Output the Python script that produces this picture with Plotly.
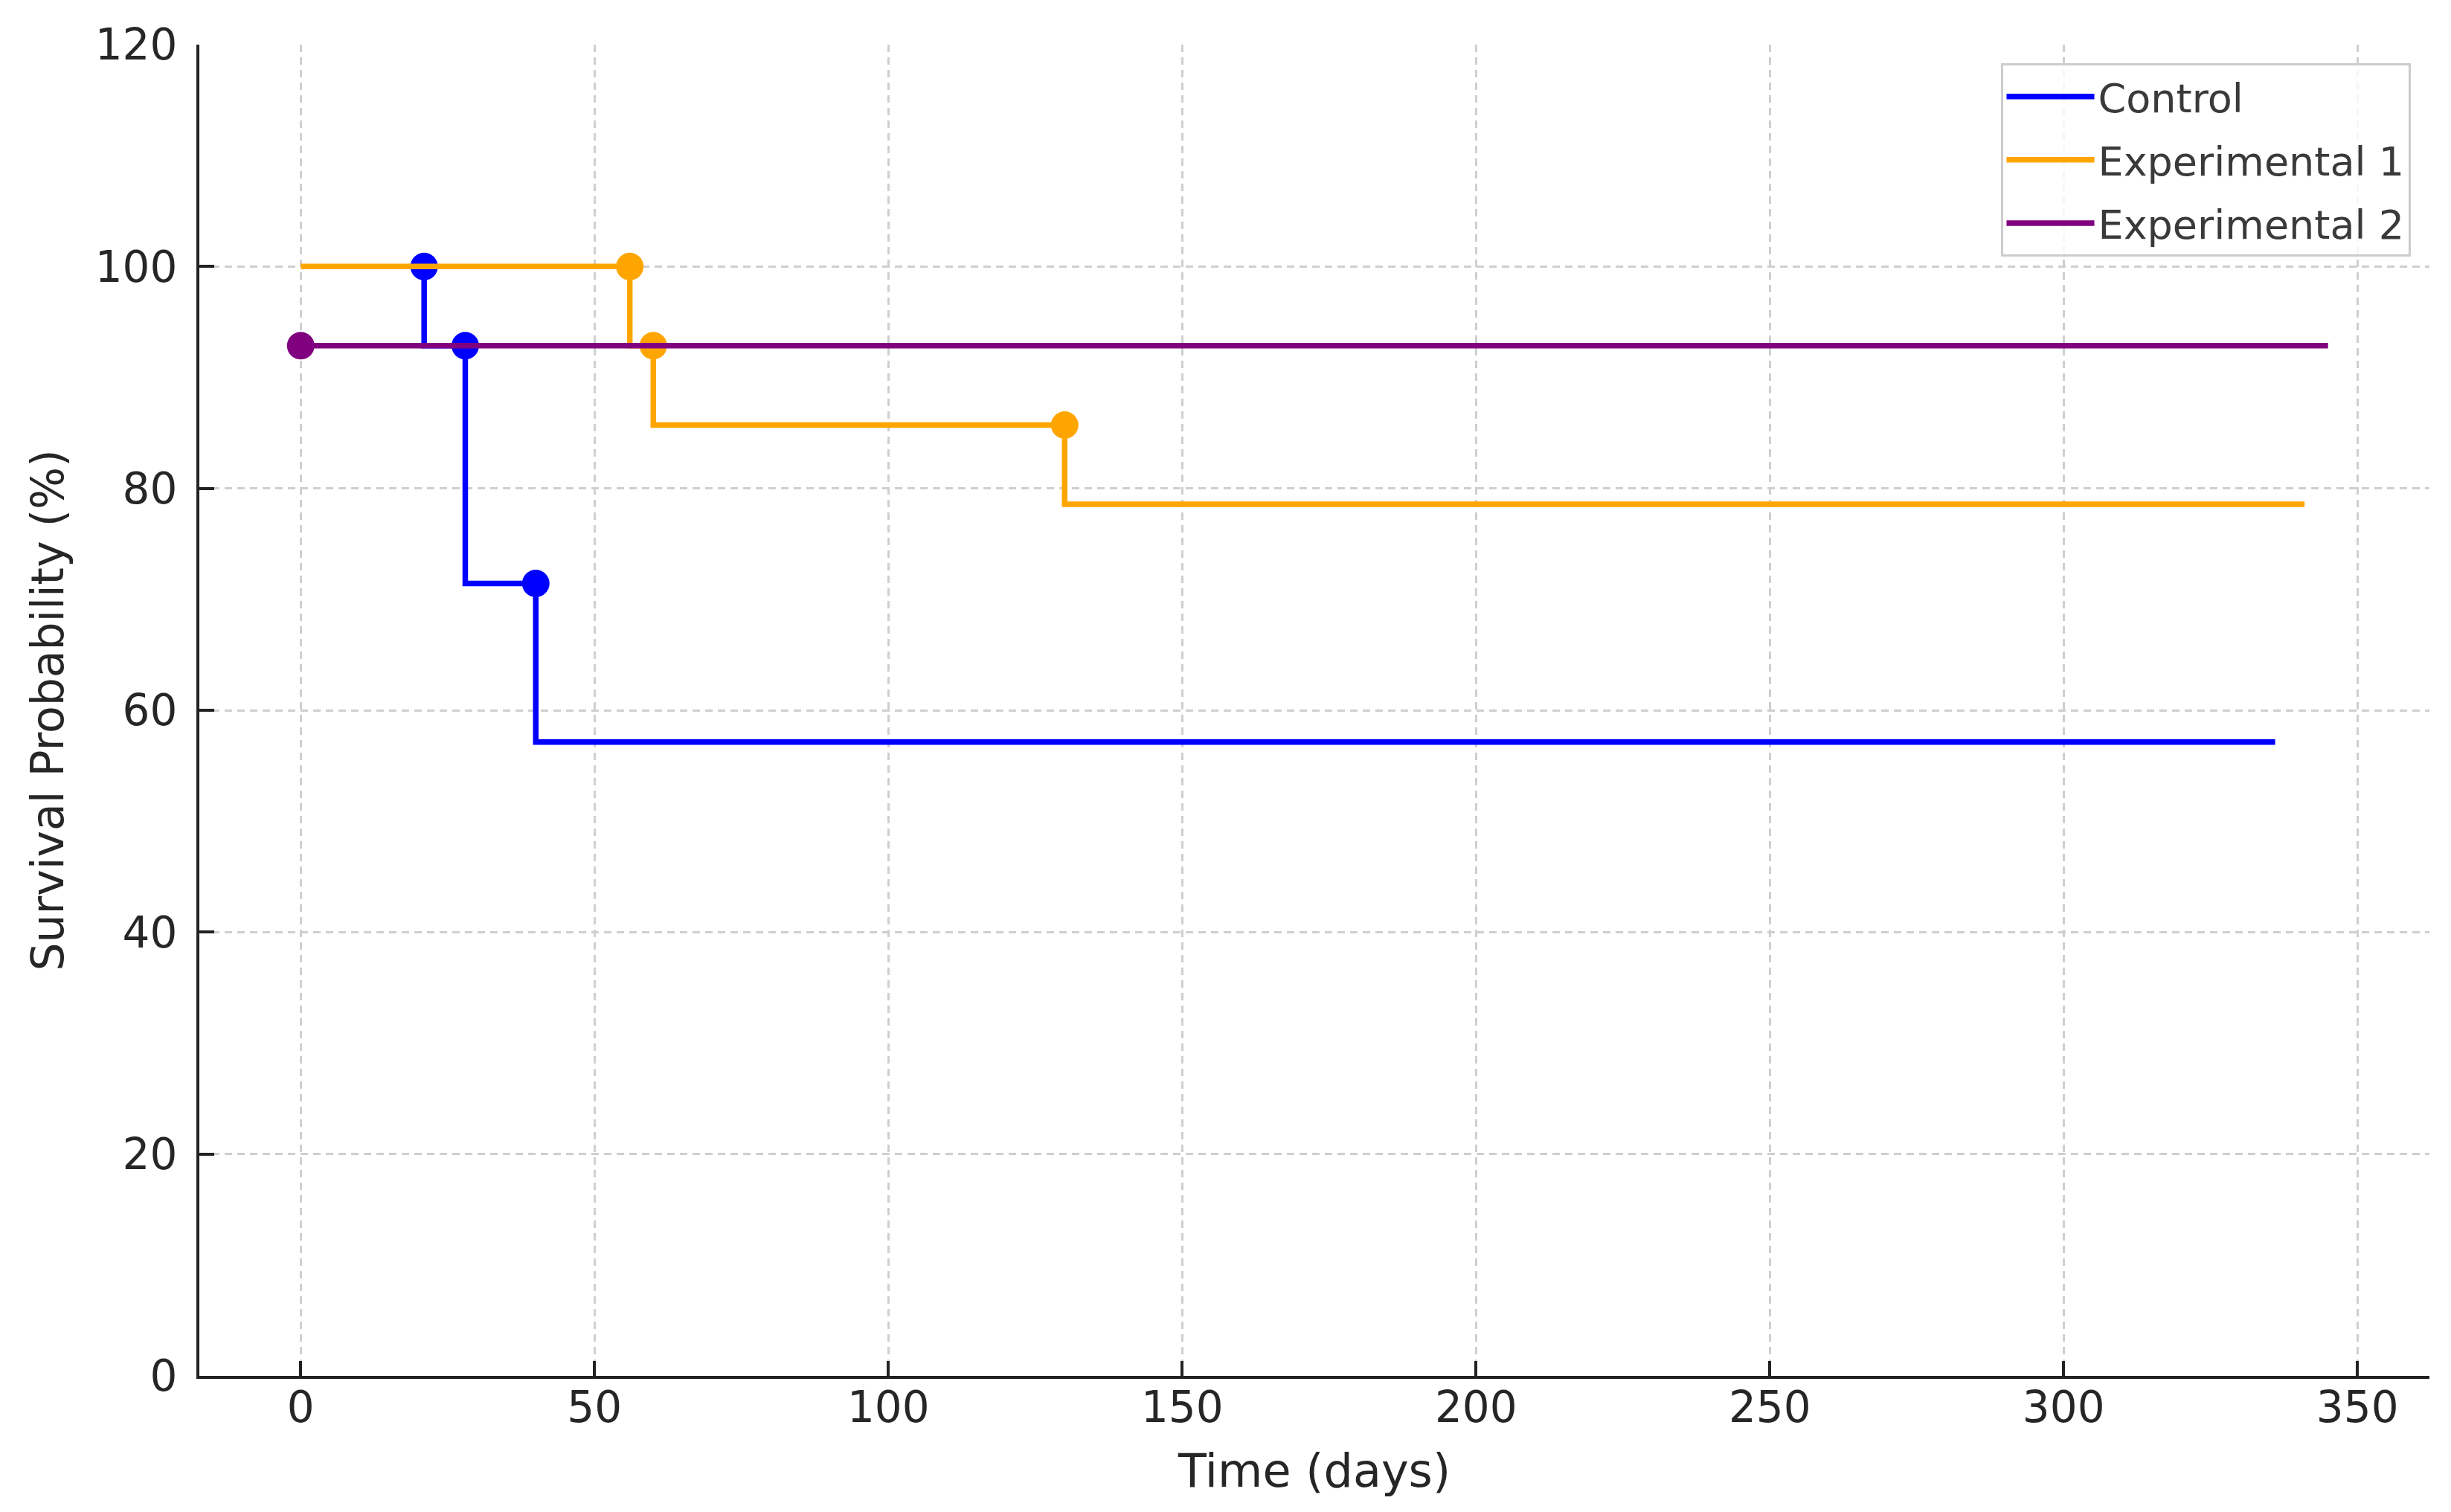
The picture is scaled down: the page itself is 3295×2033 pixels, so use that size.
import plotly.graph_objects as go

# ---------------------------------------------------------------------------
# Data (Kaplan-Meier style survival, %)
# ---------------------------------------------------------------------------
control_days = [21, 28, 40, 336]
control_surv = [100, 92.86, 71.43, 57.14]
control_event_days = [21, 28, 40]
control_event_surv = [100, 92.86, 71.43]

exp1_days = [0, 56, 60, 130, 341]
exp1_surv = [100, 100, 92.86, 85.71, 78.57]
exp1_event_days = [56, 60, 130]
exp1_event_surv = [100, 92.86, 85.71]

exp2_days = [0, 345]
exp2_surv = [92.86, 92.86]
exp2_event_days = [0]
exp2_event_surv = [92.86]

x_ticks = [0, 50, 100, 150, 200, 250, 300, 350]
y_ticks = [0, 20, 40, 60, 80, 100, 120]

SERIES = [
    ("Control", "#0000ff", control_days, control_surv, control_event_days, control_event_surv),
    ("Experimental 1", "#ffa500", exp1_days, exp1_surv, exp1_event_days, exp1_event_surv),
    ("Experimental 2", "#800080", exp2_days, exp2_surv, exp2_event_days, exp2_event_surv),
]

FONT = "DejaVu Sans"
AXIS_COLOR = "#222222"
GRID_COLOR = "#cfcfcf"
TEXT_COLOR = "#262626"

fig = go.Figure()

# step line first, then the event dots on top, series by series
for name, color, days, surv, ev_days, ev_surv in SERIES:
    fig.add_trace(go.Scatter(
        x=days, y=surv,
        mode="lines",
        name=name,
        legendgroup=name,
        line=dict(color=color, width=7.5, shape="vh"),
    ))
    fig.add_trace(go.Scatter(
        x=ev_days, y=ev_surv,
        mode="markers",
        name=name,
        legendgroup=name,
        showlegend=False,
        marker=dict(color=color, size=37),
    ))

axis_common = dict(
    showline=True,
    linewidth=4,
    linecolor=AXIS_COLOR,
    ticks="inside",
    ticklen=20,
    tickwidth=3.5,
    tickcolor=AXIS_COLOR,
    showgrid=True,
    gridcolor=GRID_COLOR,
    gridwidth=2.5,
    griddash="10px,7px",
    zeroline=False,
    tickfont=dict(family=FONT, size=58, color=TEXT_COLOR),
)

fig.update_xaxes(
    **axis_common,
    range=[-17.25, 362.25],
    tickvals=x_ticks,
    ticklabelstandoff=-12,
    title=dict(text="Time (days)", font=dict(family=FONT, size=62, color=TEXT_COLOR), standoff=32),
)
fig.update_yaxes(
    **axis_common,
    range=[0, 120],
    tickvals=y_ticks,
    ticklabelstandoff=14,
    title=dict(text="Survival Probability (%)", font=dict(family=FONT, size=60, color=TEXT_COLOR), standoff=24),
)

fig.update_layout(
    width=3295,
    height=2033,
    paper_bgcolor="white",
    plot_bgcolor="white",
    font=dict(family=FONT, color=TEXT_COLOR),
    margin=dict(l=260, r=37, t=52, b=191, autoexpand=False),
    legend=dict(
        x=0.9915, y=0.986,
        xanchor="right", yanchor="top",
        bgcolor="rgba(255,255,255,0.8)",
        bordercolor="#cccccc",
        borderwidth=3,
        font=dict(family=FONT, size=54, color="#3a3a3a"),
        tracegroupgap=12,
        itemwidth=118,
    ),
)

fig.write_html("out.html")
